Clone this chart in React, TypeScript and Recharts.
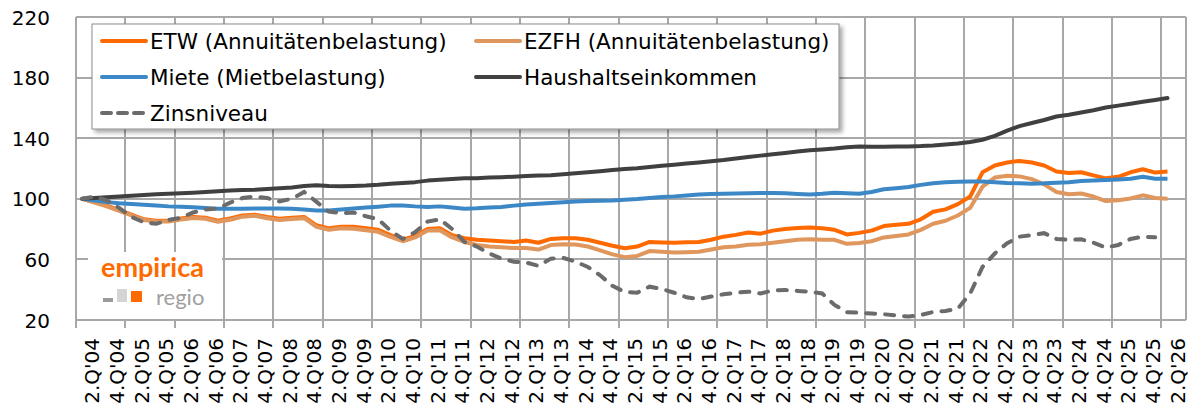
import { LineChart, Line, XAxis, YAxis } from "recharts";

// quarters on the x axis (2.Q'04 .. 3.Q'26), the last one stays empty
const quarters = [
  "2.Q'04", "3.Q'04", "4.Q'04",
  "1.Q'05", "2.Q'05", "3.Q'05", "4.Q'05",
  "1.Q'06", "2.Q'06", "3.Q'06", "4.Q'06",
  "1.Q'07", "2.Q'07", "3.Q'07", "4.Q'07",
  "1.Q'08", "2.Q'08", "3.Q'08", "4.Q'08",
  "1.Q'09", "2.Q'09", "3.Q'09", "4.Q'09",
  "1.Q'10", "2.Q'10", "3.Q'10", "4.Q'10",
  "1.Q'11", "2.Q'11", "3.Q'11", "4.Q'11",
  "1.Q'12", "2.Q'12", "3.Q'12", "4.Q'12",
  "1.Q'13", "2.Q'13", "3.Q'13", "4.Q'13",
  "1.Q'14", "2.Q'14", "3.Q'14", "4.Q'14",
  "1.Q'15", "2.Q'15", "3.Q'15", "4.Q'15",
  "1.Q'16", "2.Q'16", "3.Q'16", "4.Q'16",
  "1.Q'17", "2.Q'17", "3.Q'17", "4.Q'17",
  "1.Q'18", "2.Q'18", "3.Q'18", "4.Q'18",
  "1.Q'19", "2.Q'19", "3.Q'19", "4.Q'19",
  "1.Q'20", "2.Q'20", "3.Q'20", "4.Q'20",
  "1.Q'21", "2.Q'21", "3.Q'21", "4.Q'21",
  "1.Q'22", "2.Q'22", "3.Q'22", "4.Q'22",
  "1.Q'23", "2.Q'23", "3.Q'23", "4.Q'23",
  "1.Q'24", "2.Q'24", "3.Q'24", "4.Q'24",
  "1.Q'25", "2.Q'25", "3.Q'25", "4.Q'25",
  "1.Q'26", "2.Q'26", "3.Q'26",
];

// ETW (Annuitätenbelastung)
const etw = [
  100, 98, 95.5, 92.5, 89.5, 86.5, 85.5, 85.5, 87, 88,
  87.5, 85.5, 87, 89, 89.5, 88, 86.8, 87.5, 88, 82.5,
  80.5, 81.5, 81.5, 80.5, 79.5, 76, 73, 75.5, 80, 80.5,
  76, 74, 73, 72.5, 72, 71.5, 72.5, 71, 73.5, 74,
  74, 73, 71, 69, 67.4, 68.5, 71.5, 71.2, 71, 71.3,
  71.5, 73, 75, 76.2, 77.7, 77, 79, 80, 80.8, 81,
  80.5, 79.5, 76.5, 77.5, 79, 82, 82.8, 83.5, 86.5, 91.5,
  93, 96.5, 101.5, 117.5, 122, 124, 125, 124, 122, 118,
  117, 117.5, 115.5, 113.5, 114.5, 117.5, 119.5, 117.3, 118,
];

// EZFH (Annuitätenbelastung)
const ezfh = [
  100, 97.5, 95, 92, 89, 86, 85, 85, 86.3, 87.3,
  86.8, 84.8, 86.2, 88.2, 88.8, 87.2, 86, 86.7, 87.2, 81.5,
  79.5, 80.5, 80.3, 79.2, 78.2, 74.8, 72, 74.5, 79, 79.3,
  74.5, 71.5, 69.5, 68.5, 68, 67.5, 67.5, 66.5, 69.5, 70,
  69.8, 68.5, 66, 63.3, 61.5, 62.3, 65.5, 65, 64.5, 64.8,
  65, 66.5, 68, 68.5, 69.6, 70, 71, 72, 73, 73.3,
  73, 72.9, 70.3, 70.8, 72, 74.5, 75.5, 76.5, 79.5, 83.5,
  85.5, 89, 94, 108, 114, 115.2, 114.8, 113, 109.5, 104.5,
  103, 103.5, 101.5, 98.5, 99, 100.2, 102.3, 100.5, 100,
];

// Miete (Mietbelastung)
const miete = [
  100, 98.8, 97.8, 97, 96.5, 96, 95.5, 95, 94.8, 94.5,
  94, 93.5, 93.5, 93.5, 93.6, 93.6, 93.6, 93.4, 93, 92.3,
  92.3, 93, 93.6, 94.2, 94.8, 95.5, 95.6, 95, 94.6, 95,
  94.2, 93.5, 93.8, 94.3, 94.6, 95.5, 96.3, 96.8, 97.3, 97.8,
  98.2, 98.5, 98.7, 98.8, 99.3, 99.8, 100.5, 101.2, 101.6, 102.2,
  102.8, 103.2, 103.3, 103.5, 103.7, 103.9, 103.9, 103.6, 103.2, 102.8,
  103.3, 104, 103.7, 103.4, 104.5, 106.3, 107, 107.8, 109.2, 110.3,
  111, 111.3, 111.5, 111.4, 111, 110.5, 110.2, 110, 110.2, 110.6,
  111, 111.7, 112, 112.4, 112.8, 113.2, 114.5, 113.3, 113.3,
];

// Haushaltseinkommen
const einkommen = [
  100, 100.5, 101, 101.5, 102, 102.5, 103, 103.3, 103.6, 104,
  104.5, 105, 105.5, 105.8, 106, 106.5, 107, 107.5, 108.5, 109,
  108.5, 108.3, 108.5, 108.8, 109.3, 110, 110.5, 111, 112, 112.5,
  113, 113.5, 113.5, 114, 114.3, 114.6, 115, 115.3, 115.6, 116.2,
  116.8, 117.5, 118.2, 119, 119.6, 120.2, 121, 121.8, 122.5, 123.3,
  124, 124.8, 125.6, 126.6, 127.6, 128.5, 129.4, 130.3, 131.2, 132,
  132.6, 133.2, 134, 134.5, 134.4, 134.3, 134.5, 134.6, 134.8, 135.2,
  135.8, 136.5, 137.5, 139, 141.5, 145, 148, 150, 152, 154.3,
  155.5, 157, 158.5, 160.3, 161.5, 162.8, 164, 165.2, 166.5,
];

// Zinsniveau (ends one quarter earlier)
const zins = [
  100, 101.5, 99, 94, 88, 84.5, 83.5, 86, 87.5, 91,
  93, 93.5, 97.5, 100.5, 101.5, 100.5, 98.3, 100, 104.5, 98,
  91.5, 90.5, 91, 88.5, 86.5, 79, 73.5, 78, 85, 86.5,
  80, 71.5, 68.5, 64, 60.5, 58.5, 58, 55.7, 60.5, 61,
  58.5, 55, 49.5, 42.5, 38.5, 38, 42, 40.5, 38, 35,
  33.8, 35.5, 37, 38, 38.7, 37.5, 39.5, 39.8, 39.2, 38.7,
  37.5, 30, 25.2, 24.8, 24.3, 23.8, 23, 22.3, 23.3, 25.3,
  26, 27.5, 37.5, 55, 64, 70.7, 75, 76, 77.3, 73.5,
  72.9, 73.3, 71, 67.8, 69.5, 73.5, 75, 74.6,
];

const yTicks = [20, 60, 100, 140, 180, 220];

const data = quarters.map((label, i) => ({
  i,
  label,
  etw: etw[i] ?? null,
  ezfh: ezfh[i] ?? null,
  miete: miete[i] ?? null,
  einkommen: einkommen[i] ?? null,
  zins: zins[i] ?? null,
}));

const W = 1196;
const H = 410;
const LEFT = 76;
const RIGHT = 10;
const TOP = 17;
const BOTTOM_AXIS = 90;
const PLOT_BOTTOM = H - BOTTOM_AXIS;
const PLOT_H = PLOT_BOTTOM - TOP;
const STEP = (W - LEFT - RIGHT) / quarters.length;
const Y_MIN = 20;
const Y_MAX = 220;
const FONT = "'DejaVu Sans', sans-serif";
const GRID = "#a8a8a8";
const GRID_W = 2;

// labels on every second quarter, grid lines on year boundaries (+ right border)
const labelTicks = quarters.map((_, i) => i).filter((i) => i % 2 === 0 && i < 89);
const gridX = quarters
  .map((_, i) => i)
  .filter((i) => i % 4 === 0)
  .map((i) => Math.round(LEFT + i * STEP))
  .concat([W - RIGHT]);
const gridY = yTicks.map((v) => Math.round(TOP + ((Y_MAX - v) / (Y_MAX - Y_MIN)) * PLOT_H));

const C_ETW = "#ff6a00";
const C_EZFH = "#e0975d";
const C_MIETE = "#3c88c6";
const C_EINK = "#404040";
const C_ZINS = "#6b6b6b";

const QuarterTick = (props: any) => {
  const { x, payload } = props;
  const bx = x + 17;
  const by = PLOT_BOTTOM + 18;
  const yearStart = Number(payload.value) % 4 === 0;
  const tx = Math.round(x - STEP / 2);
  return (
    <g>
      {yearStart && (
        <path d={`M${tx},${PLOT_BOTTOM}V${PLOT_BOTTOM + 8}`} stroke={GRID} strokeWidth={GRID_W} fill="none" />
      )}
      <text
        x={bx}
        y={by}
        transform={`rotate(-90 ${bx} ${by})`}
        textAnchor="end"
        fontSize={20}
        fontFamily={FONT}
        fill="#000"
      >
        {quarters[payload.value]}
      </text>
    </g>
  );
};

const ValueTick = (props: any) => {
  const { y, payload } = props;
  return (
    <text x={50} y={y + 7.5} textAnchor="end" fontSize={20} fontFamily={FONT} fill="#000">
      {payload.value}
    </text>
  );
};

// plot grid, drawn underneath the chart
const Grid = () => (
  <svg width={W} height={H} style={{ position: "absolute", left: 0, top: 0 }}>
    {gridX.map((x) => (
      <line key={`x${x}`} x1={x} x2={x} y1={TOP} y2={PLOT_BOTTOM} stroke={GRID} strokeWidth={GRID_W} />
    ))}
    {gridY.map((y) => (
      <line key={`y${y}`} x1={LEFT} x2={W - RIGHT} y1={y} y2={y} stroke={GRID} strokeWidth={GRID_W} />
    ))}
  </svg>
);

const legendItems = [
  { name: "ETW (Annuitätenbelastung)", color: C_ETW, dash: false, x: 102, y: 41 },
  { name: "EZFH (Annuitätenbelastung)", color: C_EZFH, dash: false, x: 476, y: 41 },
  { name: "Miete (Mietbelastung)", color: C_MIETE, dash: false, x: 102, y: 77 },
  { name: "Haushaltseinkommen", color: C_EINK, dash: false, x: 476, y: 77 },
  { name: "Zinsniveau", color: C_ZINS, dash: true, x: 102, y: 113 },
];

const Overlay = () => (
  <svg
    width={W}
    height={H}
    style={{ position: "absolute", left: 0, top: 0, pointerEvents: "none" }}
  >
    <defs>
      <filter id="shadow" x="-5%" y="-10%" width="115%" height="130%">
        <feDropShadow dx="3" dy="3" stdDeviation="2" floodColor="#000" floodOpacity="0.35" />
      </filter>
    </defs>
    {/* legend */}
    <rect x={92} y={24} width={747} height={105} fill="#fff" stroke="#8c8c8c" strokeWidth={1} filter="url(#shadow)" />
    {legendItems.map((it) => (
      <g key={it.name}>
        <line
          x1={it.x}
          x2={it.x + 44}
          y1={it.y}
          y2={it.y}
          stroke={it.color}
          strokeWidth={4}
          strokeLinecap="round"
          strokeDasharray={it.dash ? "9 7" : undefined}
        />
        <text x={it.x + 48} y={it.y + 8} fontSize={21.5} fontFamily={FONT} fill="#000">
          {it.name}
        </text>
      </g>
    ))}
    {/* logo */}
    <rect x={88} y={252} width={134} height={67} fill="#fff" />
    <text x={101} y={277} fontSize={27} fontWeight={700} fontFamily="Lato, sans-serif" fill="#ff6a00">
      empirica
    </text>
    <rect x={103} y={298} width={10} height={4} fill="#9a9a9a" />
    <rect x={117} y={289} width={10} height={13} fill="#d4d4d4" />
    <rect x={131} y={291} width={11} height={11} fill="#ff6a00" />
    <text x={156} y={304.5} fontSize={22} fontFamily="Lato, sans-serif" fill="#a0a0a0">
      regio
    </text>
  </svg>
);

const App = () => {
  return (
    <div style={{ position: "absolute", left: 0, top: 0, width: W, height: H, background: "#fff" }}>
      <Grid />
      <div style={{ position: "absolute", left: 0, top: 0 }}>
        <LineChart width={W} height={H} data={data} margin={{ top: TOP, right: RIGHT, bottom: 0, left: 0 }}>
          <XAxis
            dataKey="i"
            type="number"
            domain={[-0.5, 89.5]}
            ticks={labelTicks}
            tick={<QuarterTick />}
            tickLine={false}
            axisLine={{ stroke: GRID, strokeWidth: GRID_W }}
            height={BOTTOM_AXIS}
            interval={0}
            allowDataOverflow
          />
          <YAxis
            type="number"
            domain={[Y_MIN, Y_MAX]}
            ticks={yTicks}
            width={LEFT}
            tickLine={false}
            axisLine={{ stroke: GRID, strokeWidth: GRID_W }}
            tick={<ValueTick />}
            interval={0}
          />
          <Line dataKey="etw" stroke={C_ETW} strokeWidth={4} dot={false} isAnimationActive={false} strokeLinejoin="round" />
          <Line dataKey="ezfh" stroke={C_EZFH} strokeWidth={4} dot={false} isAnimationActive={false} strokeLinejoin="round" />
          <Line dataKey="miete" stroke={C_MIETE} strokeWidth={4} dot={false} isAnimationActive={false} strokeLinejoin="round" />
          <Line dataKey="einkommen" stroke={C_EINK} strokeWidth={4} dot={false} isAnimationActive={false} strokeLinejoin="round" strokeLinecap="round" />
          <Line
            dataKey="zins"
            stroke={C_ZINS}
            strokeWidth={4}
            strokeDasharray="9 10"
            strokeLinecap="round"
            dot={false}
            isAnimationActive={false}
          />
        </LineChart>
      </div>
      <Overlay />
    </div>
  );
};

export default App;
